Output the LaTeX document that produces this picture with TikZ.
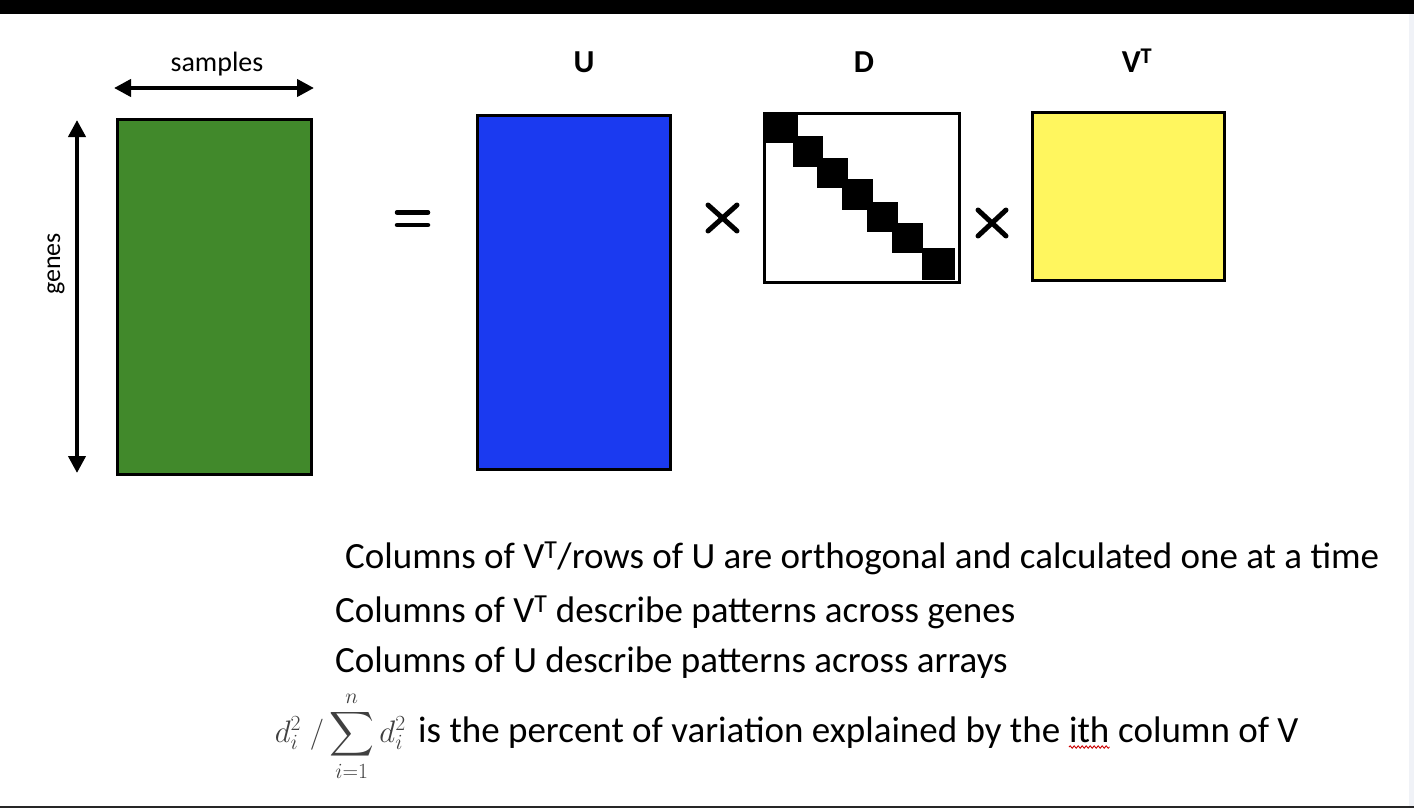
\documentclass[tikz,border=0pt]{standalone}
\usepackage{amsmath}
\usepackage{fontspec}
\setmainfont{Carlito}
\usetikzlibrary{arrows.meta,decorations.pathmorphing}
\definecolor{matgreen}{RGB}{65,137,43}
\definecolor{matblue}{RGB}{27,58,240}
\definecolor{matyellow}{RGB}{255,246,94}
\definecolor{stripgray}{RGB}{240,242,247}
\tikzset{
  matbox/.style={draw=black, line width=3pt, inner sep=0pt, anchor=north west},
  dimarrow/.style={line width=4pt, {Triangle[length=17pt,width=17pt]}-{Triangle[length=17pt,width=17pt]}},
  oplabel/.style={line width=5pt, line cap=round},
  headlabel/.style={font=\fontsize{32}{36}\selectfont\bfseries, anchor=base, inner sep=0pt},
  bodyline/.style={font=\fontsize{37}{42}\selectfont, anchor=base west, inner sep=0pt},
  axislabel/.style={font=\fontsize{28}{32}\selectfont, anchor=base, inner sep=0pt}
}
\begin{document}
\begin{tikzpicture}[x=1pt,y=-1pt]
\useasboundingbox (0,0) rectangle (1414,808);
\fill[white] (0,0) rectangle (1414,808);
% frame of the screenshot
\fill[black] (0,0) rectangle (1414,14);
\fill[stripgray] (1409,14) rectangle (1414,806);
\fill[black!85] (0,806) rectangle (1414,808);

% data matrix
\node[matbox, fill=matgreen, minimum width=194pt, minimum height=355pt] (X) at (116,118) {};
\coordinate (sL) at (114,88);
\coordinate (sR) at (314,88);
\draw[dimarrow] (sL) -- (sR);
\node[axislabel] (samples) at (217,72) {samples};
\coordinate (gT) at (77,120);
\coordinate (gB) at (77,473);
\draw[dimarrow] (gT) -- (gB);
\node[axislabel, font=\fontsize{26}{30}\selectfont, rotate=90] (genes) at (60,264) {genes};

% equals
\coordinate (eqA1) at (397,212.5);
\coordinate (eqA2) at (428,212.5);
\coordinate (eqB1) at (397,225);
\coordinate (eqB2) at (428,225);
\draw[oplabel, line width=4.5pt] (eqA1) -- (eqA2);
\draw[oplabel, line width=4.5pt] (eqB1) -- (eqB2);

% U
\node[matbox, fill=matblue, minimum width=193pt, minimum height=354pt] (U) at (476,114) {};
\node[headlabel] (Ulab) at (584,73) {U};

% times 1
\coordinate (t1a) at (708,205);
\coordinate (t1b) at (737,231);
\coordinate (t1c) at (708,231);
\coordinate (t1d) at (737,205);
\draw[oplabel] (t1a) -- (t1b);
\draw[oplabel] (t1c) -- (t1d);

% D
\node[matbox, fill=white, minimum width=195pt, minimum height=169pt] (D) at (763,112) {};
\node[headlabel] (Dlab) at (864,73) {D};
\fill[black] (765,113) rectangle (798,143);
\fill[black] (793,136) rectangle (823,167);
\fill[black] (817,158) rectangle (848,188);
\fill[black] (842,179) rectangle (873,210);
\fill[black] (867,202) rectangle (898,232);
\fill[black] (892,223) rectangle (923,253);
\fill[black] (922,248) rectangle (955,280);

% times 2
\coordinate (t2a) at (978,210);
\coordinate (t2b) at (1006,236);
\coordinate (t2c) at (978,236);
\coordinate (t2d) at (1006,210);
\draw[oplabel] (t2a) -- (t2b);
\draw[oplabel] (t2c) -- (t2d);

% V^T
\node[matbox, fill=matyellow, minimum width=192pt, minimum height=168pt] (VT) at (1031,111) {};
\node[headlabel] (VTlab) at (1137,73) {V\textsuperscript{T}};

% text lines
\node[bodyline] (l1) at (345,568) {Columns of V\textsuperscript{T}/rows of U are orthogonal and calculated one at a time};
\node[bodyline] (l2) at (335,622) {Columns of V\textsuperscript{T} describe patterns across genes};
\node[bodyline] (l3) at (335,672) {Columns of U describe patterns across arrays};
\node[font=\fontsize{24}{28}\selectfont, anchor=base east, inner sep=0pt, text=black!75] (frm) at (406,742)
  {\scalebox{1.25}{$d_i^2\;/\mathop{\displaystyle\sum}\limits_{\vphantom{1}i=1}^{\smash{n}} d_i^2$}};
\node[bodyline] (l4a) at (418,742) {is the percent of variation explained by the};
\node[bodyline, xshift=8.4pt] (l4b) at (l4a.base east) {ith};
\node[bodyline, xshift=8.4pt] (l4c) at (l4b.base east) {column of V};
\coordinate (sqA) at ([yshift=-5pt]l4b.base west);
\coordinate (sqB) at ([yshift=-5pt]l4b.base east);
\draw[red!80!black, line width=0.9pt, decorate, decoration={snake, amplitude=1.2pt, segment length=4pt}] (sqA) -- (sqB);
\end{tikzpicture}
\end{document}
